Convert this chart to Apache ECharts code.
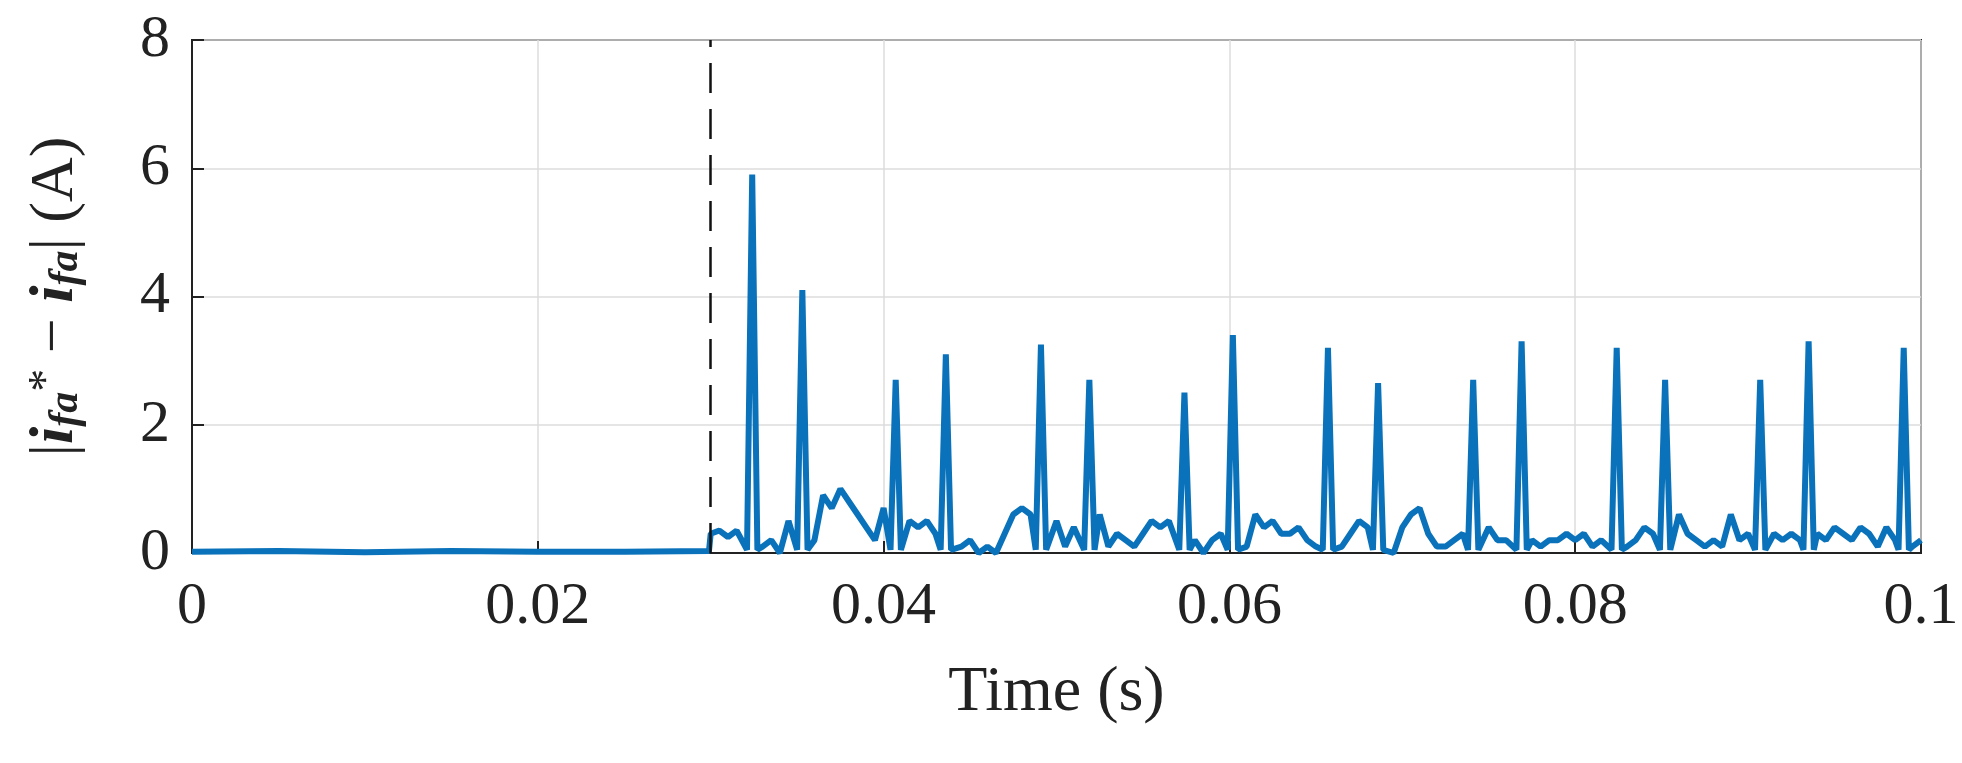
<!DOCTYPE html>
<html><head><meta charset="utf-8">
<script src="https://cdn.jsdelivr.net/npm/echarts@6/dist/echarts.min.js"></script>
<style>html,body{margin:0;padding:0;background:#fff}#c{width:1962px;height:763px}</style>
</head><body><div id="c"></div>
<script>
// pre-fault samples
const preTimes = [0,0.005,0.01,0.015,0.02,0.025,0.0299];
const preValues = [0.02,0.03,0.01,0.03,0.02,0.02,0.03];
// post-fault baseline, sampled every 0.0005 s from 0.0300 to 0.1000
const baseStart = 0.03, baseStep = 0.0005;
const baseValues = [
0.3,0.35,0.25,0.35,0.1,0.0,0.1,0.2,0.0,0.5,0.7,0.6,0.2,0.9,0.7,1.0,0.8,0.6,0.4,0.2,
0.7,0.3,0.6,0.5,0.4,0.5,0.3,0.1,0.0,0.1,0.2,0.0,0.1,0.0,0.3,0.6,0.7,0.6,0.3,0.1,
0.5,0.1,0.4,0.2,0.0,0.6,0.1,0.3,0.2,0.1,0.3,0.5,0.4,0.5,0.6,0.3,0.2,0.0,0.2,0.3,
0.1,0.0,0.1,0.6,0.4,0.5,0.3,0.3,0.4,0.2,0.1,0.0,0.2,0.1,0.3,0.5,0.4,0.5,0.2,0.0,
0.4,0.6,0.7,0.3,0.1,0.1,0.2,0.3,0.2,0.7,0.4,0.2,0.2,0.2,0.3,0.2,0.1,0.2,0.2,0.3,
0.2,0.3,0.1,0.2,0.2,0.6,0.1,0.2,0.4,0.3,0.5,0.6,0.6,0.3,0.2,0.1,0.2,0.1,0.6,0.2,
0.3,0.4,0.5,0.3,0.2,0.3,0.2,0.4,0.3,0.2,0.4,0.3,0.2,0.4,0.3,0.1,0.4,0.2,0.3,0.1,0.2];
// spikes
const peakTimes = [0.0324,0.0353,0.0407,0.0436,0.0491,0.0519,0.0574,0.0602,0.0657,0.0686,0.0741,0.0769,0.0824,0.0852,0.0907,0.0935,0.0990];
const peakValues = [5.9,4.1,2.7,3.1,3.25,2.7,2.5,3.4,3.2,2.65,2.7,3.3,3.2,2.7,2.7,3.3,3.2];
const xTicks = [0,0.02,0.04,0.06,0.08,0.1];
const yTicks = [0,2,4,6,8];
const eventTime = 0.03;

let pts = preTimes.map((t,i)=>[t,preValues[i]]);
baseValues.forEach((v,i)=>{
  const t = +(baseStart + i*baseStep).toFixed(5);
  if (!peakTimes.some(p=>Math.abs(p-t)<0.00045)) pts.push([t,v]);
});
peakTimes.forEach((p,i)=>{ pts.push([p-0.0003,0.05]); pts.push([p,peakValues[i]]); pts.push([p+0.0003,0.05]); });
pts.sort((a,b)=>a[0]-b[0]);

const chart = echarts.init(document.getElementById('c'));
const F = 'Liberation Serif';
chart.setOption({
  animation:false,
  grid:{left:192,right:41,top:40,bottom:210,show:true,borderColor:'#222',borderWidth:2},
  xAxis:{type:'value',min:0,max:0.1,interval:0.02,
    name:'Time (s)',nameLocation:'middle',nameGap:108,
    nameTextStyle:{fontFamily:F,fontSize:64,color:'#222'},
    axisLine:{show:true,lineStyle:{color:'#222',width:2}},
    axisTick:{show:true,inside:true,length:12,lineStyle:{color:'#222',width:2}},
    axisLabel:{fontFamily:F,fontSize:60,color:'#222',margin:24,formatter:v=>String(+v.toFixed(2))},
    splitLine:{show:true,lineStyle:{color:'#ddd',width:1.5}}},
  yAxis:{type:'value',min:0,max:8,interval:2,
    name:'|{a|i}{s|fa}{u|*} − {a|i}{s|fa}| (A)',
    nameLocation:'middle',nameGap:105,nameRotate:90,
    nameTextStyle:{fontFamily:F,fontSize:62,color:'#222',
      rich:{a:{fontFamily:F,fontStyle:'italic',fontWeight:'bold',fontSize:62,color:'#222'},
            s:{fontFamily:F,fontStyle:'italic',fontWeight:'bold',fontSize:42,color:'#222',verticalAlign:'bottom'},
            u:{fontFamily:F,fontSize:46,color:'#222',verticalAlign:'top'}}},
    axisLine:{show:true,lineStyle:{color:'#222',width:2}},
    axisTick:{show:true,inside:true,length:12,lineStyle:{color:'#222',width:2}},
    axisLabel:{fontFamily:F,fontSize:60,color:'#222',margin:22},
    splitLine:{show:true,lineStyle:{color:'#ddd',width:1.5}}},
  series:[{type:'line',data:pts,showSymbol:false,lineStyle:{color:'#0a72ba',width:6},
    markLine:{silent:true,symbol:'none',label:{show:false},
      lineStyle:{color:'#111',type:[30,16],width:2.5},data:[{xAxis:eventTime}]}}]
});
</script></body></html>
